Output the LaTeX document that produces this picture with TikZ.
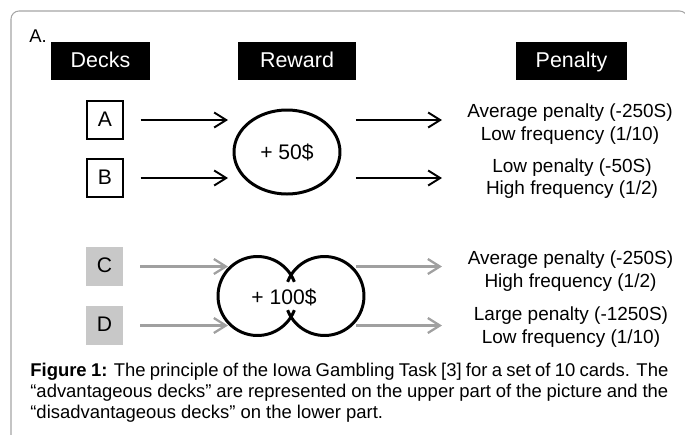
\documentclass[tikz,border=0pt]{standalone}
\usepackage{fontspec}
\setmainfont{Liberation Sans}
\usetikzlibrary{arrows.meta, shapes.geometric}

\definecolor{framegray}{RGB}{165,165,165}
\definecolor{cardgray}{RGB}{200,200,200}
\definecolor{arrgray}{RGB}{160,160,160}

\begin{document}
\begin{tikzpicture}[
    hdr/.style={fill=black, text=white, minimum height=0.76cm, inner sep=0pt, text height=0.72em, text depth=0pt, font=\fontsize{12.2}{14}\selectfont},
    card/.style={minimum width=0.72cm, minimum height=0.76cm, inner sep=0pt, text height=0.72em, text depth=0pt, font=\fontsize{12}{14}\selectfont},
    pen/.style={align=center, inner sep=0pt, font=\fontsize{10.8}{12.8}\selectfont},
    arr/.style={-{Straight Barb[length=0.24cm, width=0.3cm]}, line width=1.1pt},
    garr/.style={arr, draw=arrgray, line width=1.3pt}
]
        \useasboundingbox (0,0) rectangle (13.7,-8.68);
        \clip (0,0) rectangle (13.7,-8.68);

        %frame
        \draw[framegray, line width=0.6pt, rounded corners=0.16cm] (0.22,-9) -- (0.22,-0.22) -- (13.75,-0.22) -- (13.75,-9);

        %headers
        \node[anchor=west, inner sep=0pt, font=\fontsize{10.5}{12}\selectfont] (lbl) at (0.58,-0.72) {A.};
        \node[hdr, minimum width=1.98cm] (decks) at (2.01,-1.22) {Decks};
        \node[hdr, minimum width=2.36cm] (reward) at (5.94,-1.22) {Reward};
        \node[hdr, minimum width=2.22cm] (penalty) at (11.43,-1.22) {Penalty};
        \coordinate (pentip) at (8.84,-1.22);

        %decks
        \node[card, draw, line width=0.6pt] (A) at (2.10,-2.40) {A};
        \node[card, draw, line width=0.6pt] (B) at (2.10,-3.56) {B};
        \node[card, fill=cardgray, minimum width=0.74cm, minimum height=0.78cm] (C) at (2.09,-5.33) {C};
        \node[card, fill=cardgray, minimum width=0.74cm, minimum height=0.78cm] (D) at (2.09,-6.51) {D};

        %rewards
        \node[ellipse, draw, line width=1.7pt, minimum width=2.12cm, minimum height=1.68cm, font=\fontsize{12}{14}\selectfont] (r50) at (5.74,-3.04) {+ 50\$};
        \coordinate (cl) at (5.15,-5.92);
        \coordinate (cr) at (6.49,-5.92);
        \draw[line width=1.7pt] ([shift={(21:0.79)}]cl) arc[start angle=21, end angle=339, radius=0.79];
        \draw[line width=1.7pt] ([shift={(159:0.79)}]cr) arc[start angle=159, end angle=-159, radius=0.79];
        \node[font=\fontsize{12}{14}\selectfont] (r100) at (5.68,-5.94) {+ 100\$};

        %penalties
        \node[pen] (p1) at (11.40,-2.48) {Average penalty (-250S)\\Low frequency (1/10)};
        \node[pen] (p2) at (11.44,-3.57) {Low penalty (-50S)\\High frequency (1/2)};
        \node[pen] (p3) at (11.41,-5.42) {Average penalty (-250S)\\High frequency (1/2)};
        \node[pen] (p4) at (11.42,-6.54) {Large penalty (-1250S)\\Low frequency (1/10)};

        %arrows
        \foreach \d in {A, B} {
            \draw[arr] ([xshift=0.34cm]\d.east) -- ([xshift=-0.09cm]\d -| r50.west);
            \draw[arr] ([xshift=0.29cm]\d -| r50.east) -- (\d -| pentip);
        }
        \foreach \d in {C, D} {
            \draw[garr] ([xshift=0.34cm]\d.east) -- ([xshift=-0.09cm]\d -| r50.west);
            \draw[garr] ([xshift=0.29cm]\d -| r50.east) -- (\d -| pentip);
        }

        %caption
        \node[anchor=north west, inner sep=0pt, text width=12.76cm, align=justify, font=\fontsize{10.5}{11.95}\selectfont] (cap) at (0.6,-7.26) {\textbf{Figure 1:} The principle of the Iowa Gambling Task [3] for a set of 10 cards. The\linebreak “advantageous decks” are represented on the upper part of the picture and the\linebreak “disadvantageous decks” on the lower part.};
    \end{tikzpicture}
\end{document}
